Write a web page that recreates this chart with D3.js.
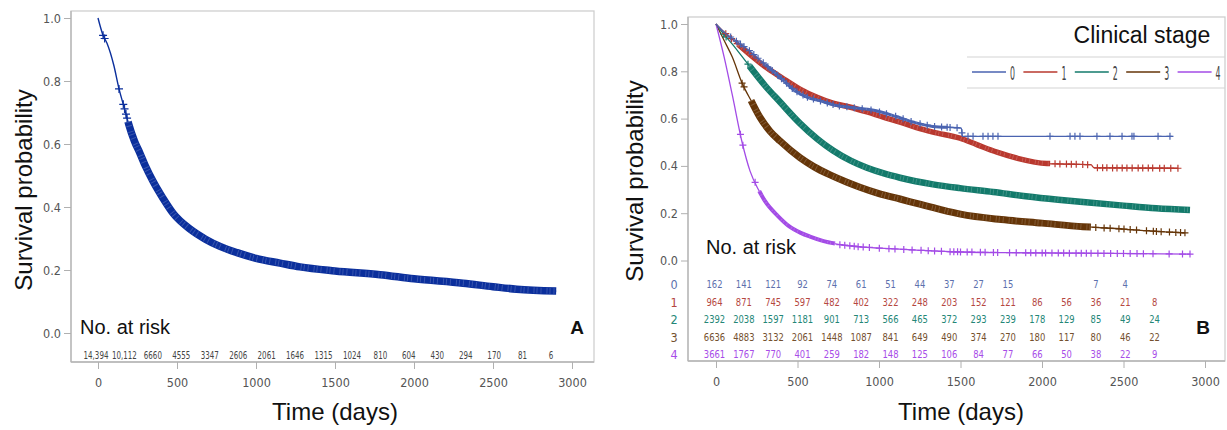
<!DOCTYPE html>
<html>
<head>
<meta charset="utf-8">
<script src="https://cdn.jsdelivr.net/npm/d3@7"></script>
<style>
  body { margin: 0; background: #fff; }
  svg { display: block; }
</style>
</head>
<body>
<svg id="chart" width="1227" height="430"></svg>
<script>
// ---------- Panel A: all patients ----------
const survA = [[0,1],[32,0.945],[57,0.92],[100,0.85],[133,0.775],[165,0.717],[196,0.66],[230,0.61],
  [266,0.57],[300,0.53],[350,0.48],[411,0.428],[475,0.38],[582,0.33],[680,0.298],[772,0.275],
  [880,0.255],[1000,0.237],[1152,0.222],[1278,0.21],[1500,0.197],[1785,0.185],[2000,0.172],
  [2310,0.158],[2500,0.147],[2650,0.139],[2900,0.133]];
const censorA = [32, 42, 133, 160, 168, 177, 184];
const denseA = [[190, 2900]];
const riskTimesA = [0,180,360,540,720,900,1080,1260,1440,1620,1800,1980,2160,2340,2520,2700,2880];
const riskA = ["14,394","10,112","6660","4555","3347","2606","2061","1646","1315","1024","810","604","430","294","170","81","6"];

// ---------- Panel B: by clinical stage ----------
const stages = ["0","1","2","3","4"];
const survB0 = [[0,1],[50,0.965],[100,0.94],[200,0.89],[300,0.83],[400,0.77],[480,0.72],[560,0.69],
  [640,0.675],[740,0.655],[860,0.645],[960,0.636],[1100,0.61],[1210,0.585],[1330,0.567],[1505,0.56],
  [1512,0.525],[2800,0.525]];
const survB1 = [[0,1],[50,0.965],[100,0.935],[209,0.87],[300,0.82],[400,0.775],[515,0.725],[620,0.69],
  [718,0.665],[826,0.648],[926,0.628],[1030,0.605],[1129,0.585],[1230,0.562],[1331,0.543],[1497,0.517],
  [1600,0.49],[1724,0.458],[1850,0.432],[2030,0.41],[2300,0.405],[2320,0.392],[2834,0.39]];
const survB2 = [[0,1],[50,0.955],[100,0.915],[196,0.83],[300,0.74],[393,0.67],[515,0.58],[620,0.515],
  [718,0.465],[826,0.422],[926,0.392],[1030,0.368],[1129,0.35],[1331,0.322],[1497,0.306],[1700,0.29],
  [1900,0.272],[2100,0.257],[2252,0.247],[2500,0.232],[2700,0.221],[2908,0.214]];
const survB3 = [[0,1],[50,0.93],[100,0.86],[160,0.75],[220,0.67],[270,0.605],[330,0.548],[393,0.505],
  [515,0.435],[600,0.397],[700,0.362],[800,0.332],[883,0.31],[1000,0.283],[1129,0.26],[1250,0.238],
  [1374,0.216],[1500,0.196],[1750,0.173],[2000,0.158],[2252,0.143],[2500,0.133],[2700,0.123],[2877,0.117]];
const survB4 = [[0,1],[50,0.86],[100,0.70],[160,0.50],[209,0.378],[260,0.30],[300,0.252],[380,0.188],
  [454,0.142],[520,0.117],[577,0.101],[660,0.082],[760,0.067],[880,0.058],[1006,0.052],[1200,0.045],
  [1436,0.037],[1800,0.033],[2200,0.031],[2600,0.029],[2908,0.027]];

const censorB0 = [90,125,150,172,205,232,258,290,318,345,378,402,433,468,497,534,561,598,641,683,
  718,757,803,848,897,951,1003,1046,1102,1148,1197,1252,1296,1341,1384,1418,1436,1479,1509,1546,
  1577,1638,1669,1699,1730,2049,2172,2202,2233,2337,2417,2491,2552,2564,2712,2785];
const censorB1 = [60,95,130,2080,2110,2150,2180,2210,2250,2280,2340,2372,2398,2433,2460,2492,2521,
  2553,2590,2618,2652,2679,2722,2750,2790,2834];
const censorB2 = [48,62,196];
const censorB3 = [160,172,2330,2381,2418,2472,2503,2541,2580,2641,2683,2702,2731,2782,2821,2850,2877];
const censorB4 = [150,165,240,760,790,821,848,872,903,941,1002,1061,1098,1152,1203,1258,1302,1341,
  1383,1436,1459,1482,1500,1541,1570,1622,1651,1702,1728,1801,1842,1900,1931,1962,2001,2022,2061,
  2100,2133,2168,2209,2241,2272,2301,2343,2380,2421,2462,2500,2541,2583,2622,2681,2780,2862,2908];
const denseB = [
  [[300, 1420]],
  [[140, 2050]],
  [[205, 2908]],
  [[215, 2300]],
  [[265, 730]]
];
const riskTimesB = [0,180,360,540,720,900,1080,1260,1440,1620,1800,1980,2160,2340,2520,2700];
const riskB0 = ["162","141","121","92","74","61","51","44","37","27","15","","","7","4",""];
const riskB1 = ["964","871","745","597","482","402","322","248","203","152","121","86","56","36","21","8"];
const riskB2 = ["2392","2038","1597","1181","901","713","566","465","372","293","239","178","129","85","49","24"];
const riskB3 = ["6636","4883","3132","2061","1448","1087","841","649","490","374","270","180","117","80","46","22"];
const riskB4 = ["3661","1767","770","401","259","182","148","125","106","84","77","66","50","38","22","9"];

const yTicks = [0, 0.2, 0.4, 0.6, 0.8, 1.0];
const xTicks = [0, 500, 1000, 1500, 2000, 2500, 3000];

const colA = "#0b2f9c";
const colB = ["#4a63b0", "#b9382e", "#137a6b", "#653508", "#a34be6"];
const colRisk = ["#5d70ad", "#b5473f", "#238676", "#74502e", "#a74ce8"];

const narrow = "'Liberation Sans Narrow','DejaVu Sans Condensed','Open Sans',sans-serif";
const sans = "'Liberation Sans', Arial, sans-serif";

const svg = d3.select("#chart");

function survivalAt(pts, t) {
  const i = d3.bisector(d => d[0]).right(pts, t);
  if (i <= 0) return pts[0][1];
  if (i >= pts.length) return pts[pts.length - 1][1];
  const [t0, s0] = pts[i - 1], [t1, s1] = pts[i];
  return s0 + (s1 - s0) * (t - t0) / (t1 - t0);
}

function drawFrame(g, box, x, y) {
  g.append("rect").attr("x", box.l).attr("y", box.t)
    .attr("width", box.r - box.l).attr("height", box.b - box.t)
    .attr("fill", "none").attr("stroke", "#cfcfcf").attr("stroke-width", 1.3);
  g.append("line").attr("x1", box.l).attr("x2", box.l).attr("y1", box.t).attr("y2", box.b)
    .attr("stroke", "#b5b5b5").attr("stroke-width", 1.3);
  g.append("line").attr("x1", box.l).attr("x2", box.r).attr("y1", box.b).attr("y2", box.b)
    .attr("stroke", "#b5b5b5").attr("stroke-width", 1.3);

  const yAxis = d3.axisLeft(y).tickValues(yTicks).tickFormat(d3.format(".1f")).tickSize(7).tickPadding(3);
  const ya = g.append("g").attr("transform", `translate(${box.l},0)`).call(yAxis);
  ya.select(".domain").remove();
  ya.selectAll("line").attr("stroke", "#b0b0b0");
  ya.selectAll("text").attr("font-family", narrow).attr("font-size", 12.5).attr("fill", "#555");

  const xAxis = d3.axisBottom(x).tickValues(xTicks).tickFormat(d3.format("d")).tickSize(7).tickPadding(9);
  const xa = g.append("g").attr("transform", `translate(0,${box.b})`).call(xAxis);
  xa.select(".domain").remove();
  xa.selectAll("line").attr("stroke", "#b0b0b0");
  xa.selectAll("text").attr("font-family", narrow).attr("font-size", 12.5).attr("fill", "#555");
}

function drawCurve(g, pts, censor, dense, x, y, color, lw, bandW, markH) {
  const line = d3.line().x(d => x(d[0])).y(d => y(d[1])).curve(d3.curveMonotoneX);
  g.append("path").attr("d", line(pts)).attr("fill", "none")
    .attr("stroke", color).attr("stroke-width", lw);
  dense.forEach(([a, b]) => {
    const seg = [[a, survivalAt(pts, a)], ...pts.filter(d => d[0] > a + 5 && d[0] < b - 5), [b, survivalAt(pts, b)]];
    g.append("path").attr("d", line(seg)).attr("fill", "none")
      .attr("stroke", color).attr("stroke-width", bandW).attr("stroke-linecap", "butt");
    // thin light hatching gives the band the look of packed censoring ticks
    g.append("path").attr("d", line(seg)).attr("fill", "none")
      .attr("stroke", "#fff").attr("stroke-opacity", 0.18).attr("stroke-width", bandW - 1.5)
      .attr("stroke-dasharray", "1 3 1 5 1 2");
  });
  const h = markH / 2;
  g.append("g").selectAll("path").data(censor).join("path")
    .attr("d", t => {
      const cx = x(t), cy = y(survivalAt(pts, t));
      return `M${cx - h},${cy}H${cx + h}M${cx},${cy - h}V${cy + h}`;
    })
    .attr("stroke", color).attr("stroke-width", 1.2).attr("fill", "none");
}

// narrow number text: horizontally compressed glyphs
function riskText(sel, xf, yv, size, squeeze) {
  sel.attr("transform", (d, i) => `translate(${xf(d, i)},${yv}) scale(${squeeze},1)`)
    .attr("text-anchor", "middle").attr("font-family", narrow).attr("font-size", size);
}

// ================= Panel A =================
{
  const box = { l: 71, r: 594, t: 11, b: 362 };
  const x = d3.scaleLinear().domain([0, 3000]).range([98, 572]);
  const y = d3.scaleLinear().domain([0, 1]).range([333, 18]);
  const g = svg.append("g");
  drawFrame(g, box, x, y);
  drawCurve(g, survA, censorA, denseA, x, y, colA, 1.4, 7.5, 8);

  g.append("text").attr("x", 80).attr("y", 334).text("No. at risk")
    .attr("font-family", sans).attr("font-size", 20).attr("fill", "#111");
  g.append("g").selectAll("text").data(riskA).join("text")
    .call(riskText, (d, i) => x(riskTimesA[i]) - 2, 359, 11, 0.72)
    .attr("fill", "#444").text(d => d);
  g.append("text").attr("x", 577).attr("y", 334).attr("text-anchor", "middle").text("A")
    .attr("font-family", sans).attr("font-weight", "bold").attr("font-size", 19).attr("fill", "#111");
  g.append("text").attr("x", 335).attr("y", 420).attr("text-anchor", "middle").text("Time (days)")
    .attr("font-family", sans).attr("font-size", 24).attr("fill", "#111");
  g.append("text").attr("transform", "translate(32,190) rotate(-90)").attr("text-anchor", "middle")
    .text("Survival probability").attr("font-family", sans).attr("font-size", 24).attr("fill", "#111");
}

// ================= Panel B =================
{
  const box = { l: 688, r: 1225, t: 17, b: 361 };
  const x = d3.scaleLinear().domain([0, 3000]).range([716, 1205]);
  const y = d3.scaleLinear().domain([0, 1]).range([260.5, 24]);
  const g = svg.append("g");
  drawFrame(g, box, x, y);

  const curves = [survB0, survB1, survB2, survB3, survB4];
  const censors = [censorB0, censorB1, censorB2, censorB3, censorB4];
  const bandWidths = [3, 5.5, 6.5, 7, 4];
  // stage 0 is drawn last so its sparse ticks stay visible over stage 1
  [3, 4, 2, 1, 0].forEach(i => {
    drawCurve(g, curves[i], censors[i], denseB[i], x, y, colB[i], 1.3, bandWidths[i], 7);
  });

  // legend
  g.append("text").attr("x", 1142).attr("y", 43).attr("text-anchor", "middle").text("Clinical stage")
    .attr("font-family", sans).attr("font-size", 23).attr("fill", "#111");
  g.append("line").attr("x1", 967).attr("x2", 1225).attr("y1", 57).attr("y2", 57)
    .attr("stroke", "#d4d4d4").attr("stroke-width", 1.2);
  g.append("line").attr("x1", 967).attr("x2", 1225).attr("y1", 88).attr("y2", 88)
    .attr("stroke", "#d4d4d4").attr("stroke-width", 1.2);
  const leg = g.append("g").selectAll("g").data(stages).join("g")
    .attr("transform", (d, i) => `translate(${972 + i * 51.4},72)`);
  leg.append("line").attr("x1", 0).attr("x2", 34).attr("y1", 0).attr("y2", 0)
    .attr("stroke", (d, i) => colB[i]).attr("stroke-width", 1.6);
  leg.append("text").attr("x", 38).attr("y", 7.5).text(d => d)
    .attr("font-family", narrow).attr("font-size", 20).attr("fill", "#444")
    .attr("textLength", 5).attr("lengthAdjust", "spacingAndGlyphs");

  g.append("text").attr("x", 706).attr("y", 254).text("No. at risk")
    .attr("font-family", sans).attr("font-size", 20).attr("fill", "#111");

  // number-at-risk table
  const risk = [riskB0, riskB1, riskB2, riskB3, riskB4];
  const rowY = [288, 306, 323, 341, 358];
  stages.forEach((s, r) => {
    g.append("text").attr("x", 674).attr("y", rowY[r] + 0.5).attr("text-anchor", "middle").text(s)
      .attr("font-family", narrow).attr("font-size", 12.5).attr("fill", colRisk[r]);
    g.append("g").selectAll("text").data(risk[r]).join("text")
      .call(riskText, (d, i) => x(riskTimesB[i]) - 1.5, rowY[r], 11, 0.85)
      .attr("fill", colRisk[r]).text(d => d);
  });

  g.append("text").attr("x", 1203).attr("y", 334).attr("text-anchor", "middle").text("B")
    .attr("font-family", sans).attr("font-weight", "bold").attr("font-size", 19).attr("fill", "#111");
  g.append("text").attr("x", 961).attr("y", 420).attr("text-anchor", "middle").text("Time (days)")
    .attr("font-family", sans).attr("font-size", 24).attr("fill", "#111");
  g.append("text").attr("transform", "translate(643,181) rotate(-90)").attr("text-anchor", "middle")
    .text("Survival probability").attr("font-family", sans).attr("font-size", 24).attr("fill", "#111");
}
</script>
</body>
</html>
